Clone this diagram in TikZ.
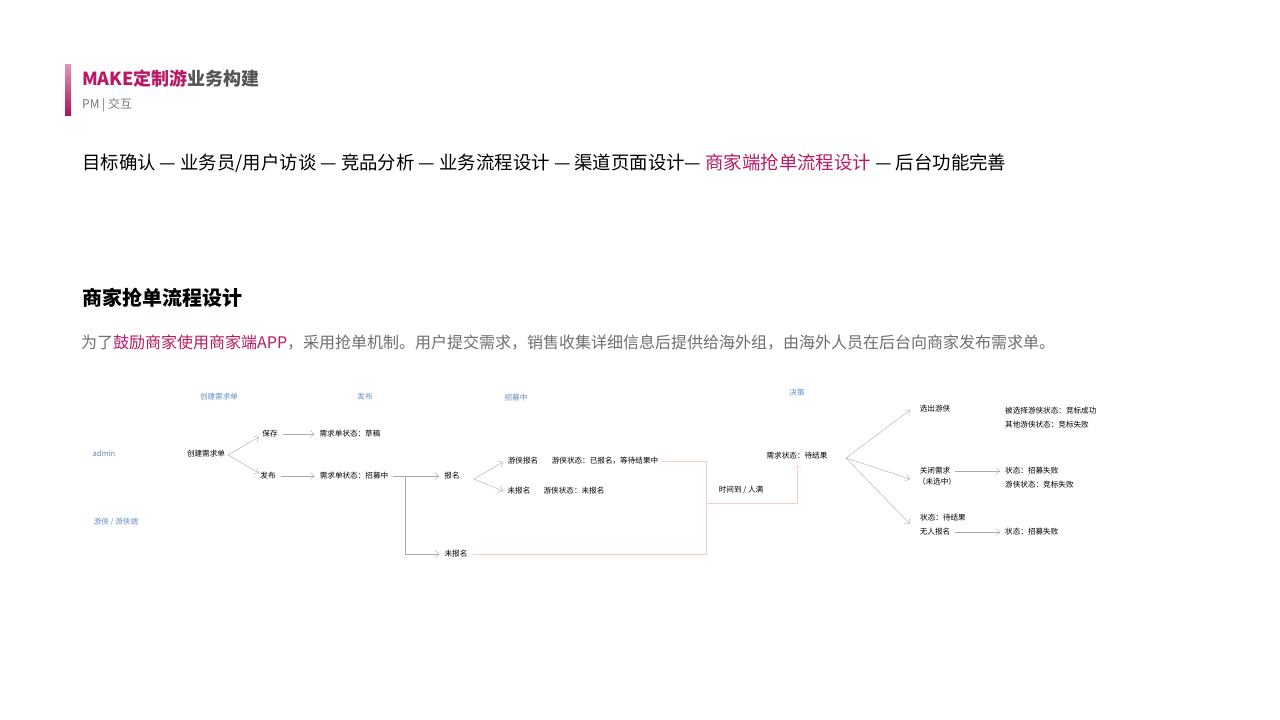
\documentclass[tikz,border=0pt]{standalone}
\usepackage{fontspec}
\setmainfont{Noto Sans CJK SC}
\usetikzlibrary{arrows.meta,positioning}
\definecolor{mk}{RGB}{185,25,100}
\definecolor{tx}{RGB}{85,85,85}
\definecolor{bl}{RGB}{100,140,195}
\definecolor{ln}{RGB}{170,170,170}
\definecolor{pk}{RGB}{243,210,195}
\tikzset{
  small/.style={font=\fontsize{7.6}{9}\selectfont, inner sep=5pt},
  lane/.style={small, text=bl},
  flow/.style={draw=ln, -{Straight Barb[length=4pt,width=7pt]}},
  loop/.style={draw=pk, -{Straight Barb[length=4pt,width=9pt]}}
}
\begin{document}
\begin{tikzpicture}[x=1pt,y=-1pt]
        \useasboundingbox (0,0) rectangle (1280,720);
        \shade[top color=mk!45, bottom color=mk!90!black] (65,64) rectangle (71,115);
        \node[anchor=west, inner sep=0pt, font=\fontsize{18}{20}\selectfont\bfseries] (title) at (82,79) {\textcolor{mk}{MAKE定制游}\textcolor{tx}{业务构建}};
        \node[anchor=west, inner sep=0pt, font=\fontsize{12}{13}\selectfont, text=tx!80] (sub) at (82,105) {PM | 交互};
        \node[anchor=west, inner sep=0pt, font=\fontsize{18.4}{20}\selectfont] (nav) at (82,163) {目标确认 — 业务员/用户访谈 — 竞品分析 — 业务流程设计 — 渠道页面设计— \textcolor{mk}{商家端抢单流程设计} — 后台功能完善};
        \node[anchor=west, inner sep=0pt, font=\fontsize{20}{22}\selectfont\bfseries] (head) at (82,298) {商家抢单流程设计};
        \node[anchor=west, inner sep=0pt, font=\fontsize{16}{18}\selectfont, text=tx!85] (desc) at (81,343) {为了\textcolor{mk}{鼓励商家使用商家端APP}，采用抢单机制。用户提交需求，销售收集详细信息后提供给海外组，由海外人员在后台向商家发布需求单。};
        % lanes
        \node[lane] (l1) at (219,397) {创建需求单};
        \node[lane] (l2) at (365,397) {发布};
        \node[lane] (l3) at (516,398) {招募中};
        \node[lane] (l4) at (797,393) {决策};
        \node[lane] (admin) at (104,454) {admin};
        \node[lane] (user) at (116,522) {游侠 / 游侠端};
        % flow
        \node[small] (create) at (206,454) {创建需求单};
        \node[small] (save) at (270,434) {保存};
        \node[small] (pub) at (268,476) {发布};
        \node[small] (draft) at (350,434) {需求单状态：草稿};
        \node[small] (recruit) at (354,476) {需求单状态：招募中};
        \node[small] (apply) at (452,476) {报名};
        \node[small] (noapply) at (456,554) {未报名};
        \node[small] (uapply) at (523,461) {游侠报名};
        \node[small] (ustate) at (605,461) {游侠状态：已报名，等待结果中};
        \node[small] (unone) at (519,491) {未报名};
        \node[small] (unstate) at (574,491) {游侠状态：未报名};
        \node[small] (wait) at (797,456) {需求状态：待结果};
        \node[small] (time) at (741,490) {时间到 / 人满};
        \node[small] (pick) at (935,409) {选出游侠};
        \node[small, anchor=west] (win) at (1000,411) {被选择游侠状态：竞标成功};
        \node[small, anchor=west] (lose) at (1000,425) {其他游侠状态：竞标失败};
        \node[small] (close) at (935,471) {关闭需求};
        \node[small] (unsel) at (937,482) {（未选中）};
        \node[small, anchor=west] (fail1) at (1000,471) {状态：招募失败};
        \node[small, anchor=west] (fail2) at (1000,485) {游侠状态：竞标失败};
        \node[small] (pend) at (943,518) {状态：待结果};
        \node[small] (nobody) at (935,532) {无人报名};
        \node[small, anchor=west] (fail3) at (1000,532) {状态：招募失败};
        \coordinate (split) at (228,455);
        \coordinate (fork) at (405,476);
        \coordinate (fork2) at (474,479);
        \coordinate (dec) at (846,458);
        \coordinate (join) at (706,503);
        % connectors
        \draw[flow] (split) -- (259,437);
        \draw[flow] (split) -- (259,473);
        \draw[flow] (save) -- (draft);
        \draw[flow] (pub) -- (recruit);
        \draw[flow] (recruit) -- (apply);
        \draw[flow] (fork) |- (noapply);
        \draw[flow] (fork2) -- (503,462);
        \draw[flow] (fork2) -- (503,491);
        \draw[draw=pk] (ustate.east) -| (join);
        \draw[draw=pk] (noapply.east) -| (join);
        \draw[loop] (join) -| (wait.south);
        \draw[flow] (dec) -- (910,410);
        \draw[flow] (dec) -- (910,479);
        \draw[flow] (dec) -- (910,524);
        \draw[flow] (close) -- (fail1);
        \draw[flow] (nobody) -- (fail3);
\end{tikzpicture}
\end{document}
